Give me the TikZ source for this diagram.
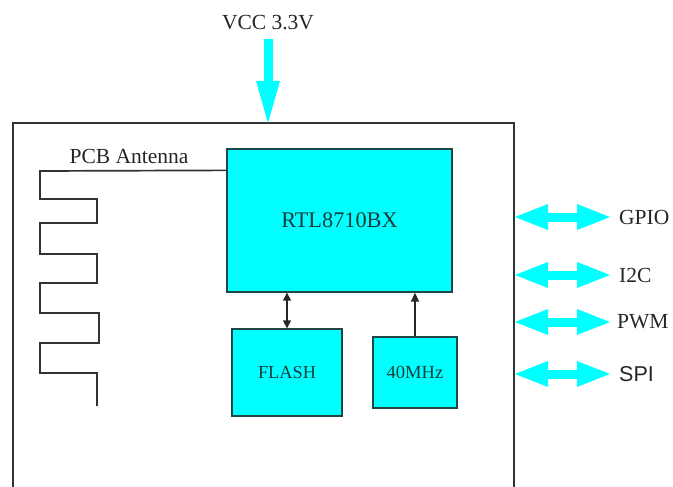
\documentclass[tikz,border=0pt]{standalone}
\usepackage{fontspec}
\setmainfont{Liberation Serif}
\newfontfamily\spifont{Liberation Sans}
\usetikzlibrary{arrows.meta}
\definecolor{chipcyan}{RGB}{0,255,255}
\definecolor{chipedge}{RGB}{30,70,70}
\definecolor{chiptext}{RGB}{25,60,60}
\definecolor{framegray}{RGB}{50,50,50}
\tikzset{
  chip/.style={draw=chipedge, fill=chipcyan, line width=1.3pt, text=chiptext, inner sep=0pt},
  pintext/.style={text=black!85, inner sep=2pt, font=\fontsize{21.5}{25}\selectfont},
  bus/.style={chipcyan, line width=9pt, shorten >=7pt,
    {Triangle[length=33pt,width=26pt,line width=0pt]}-{Triangle[length=33pt,width=26pt,line width=0pt]}},
  power/.style={chipcyan, line width=9pt, -{Triangle[length=42pt,width=24pt,line width=0pt]}},
  link/.style={line width=1.4pt, black!85},
  wire/.style={line width=1.7pt, framegray}
}
\begin{document}
\begin{tikzpicture}[x=1pt,y=-1pt]
\useasboundingbox (0,0) rectangle (673,487);
% module outline, open at the bottom
\draw[framegray, line width=2pt] (13,495) -- (13,123) -- (514,123) -- (514,495);
% chips
\node[chip, minimum width=225pt, minimum height=143pt, font=\fontsize{22.3}{26}\selectfont] (rtl) at (339.5,220.5) {RTL8710BX};
\node[chip, minimum width=110pt, minimum height=87pt, font=\fontsize{18.3}{21}\selectfont] (flash) at (287,372.5) {FLASH};
\node[chip, minimum width=84pt, minimum height=71pt, font=\fontsize{18.5}{21}\selectfont] (osc) at (415,372.5) {40MHz};
\draw[link, {Triangle[length=8pt,width=8pt]}-{Triangle[length=8pt,width=8pt]}] (flash.north) -- (flash.north |- rtl.south);
\draw[link, -{Triangle[length=9pt,width=8pt]}] (osc.north) -- (osc.north |- rtl.south);
% supply
\node[pintext] (vcc) at (268,23) {VCC 3.3V};
\coordinate (vccin) at (268,123);
\draw[power] ([yshift=-7pt]vcc.south) -- (vccin);
% antenna
\node[pintext] (antlabel) at (129,156) {PCB Antenna};
\draw[wire] ([yshift=-22pt]rtl.north west) -- (40,171) -- (40,199) -- (97,199) -- (97,223) -- (40,223)
  -- (40,254) -- (97,254) -- (97,283) -- (40,283) -- (40,313) -- (99,313) -- (99,343) -- (40,343)
  -- (40,373) -- (97,373) -- (97,406);
% interfaces
\node[pintext, anchor=west] (gpio) at (617,217) {GPIO};
\node[pintext, anchor=west] (itwoc) at (617,275) {I2C};
\node[pintext, anchor=west] (pwm) at (615,322) {PWM};
\node[pintext, anchor=west, font=\spifont\fontsize{21.5}{25}\selectfont] (spi) at (617,374) {SPI};
\coordinate (gpioin) at (515,217);
\coordinate (itwocin) at (515,275);
\coordinate (pwmin) at (515,322);
\coordinate (spiin) at (515,374);
\draw[bus] (gpioin) -- (gpio.west);
\draw[bus] (itwocin) -- (itwoc.west);
\draw[bus, shorten >=5pt] (pwmin) -- (pwm.west);
\draw[bus] (spiin) -- (spi.west);
\end{tikzpicture}
\end{document}
